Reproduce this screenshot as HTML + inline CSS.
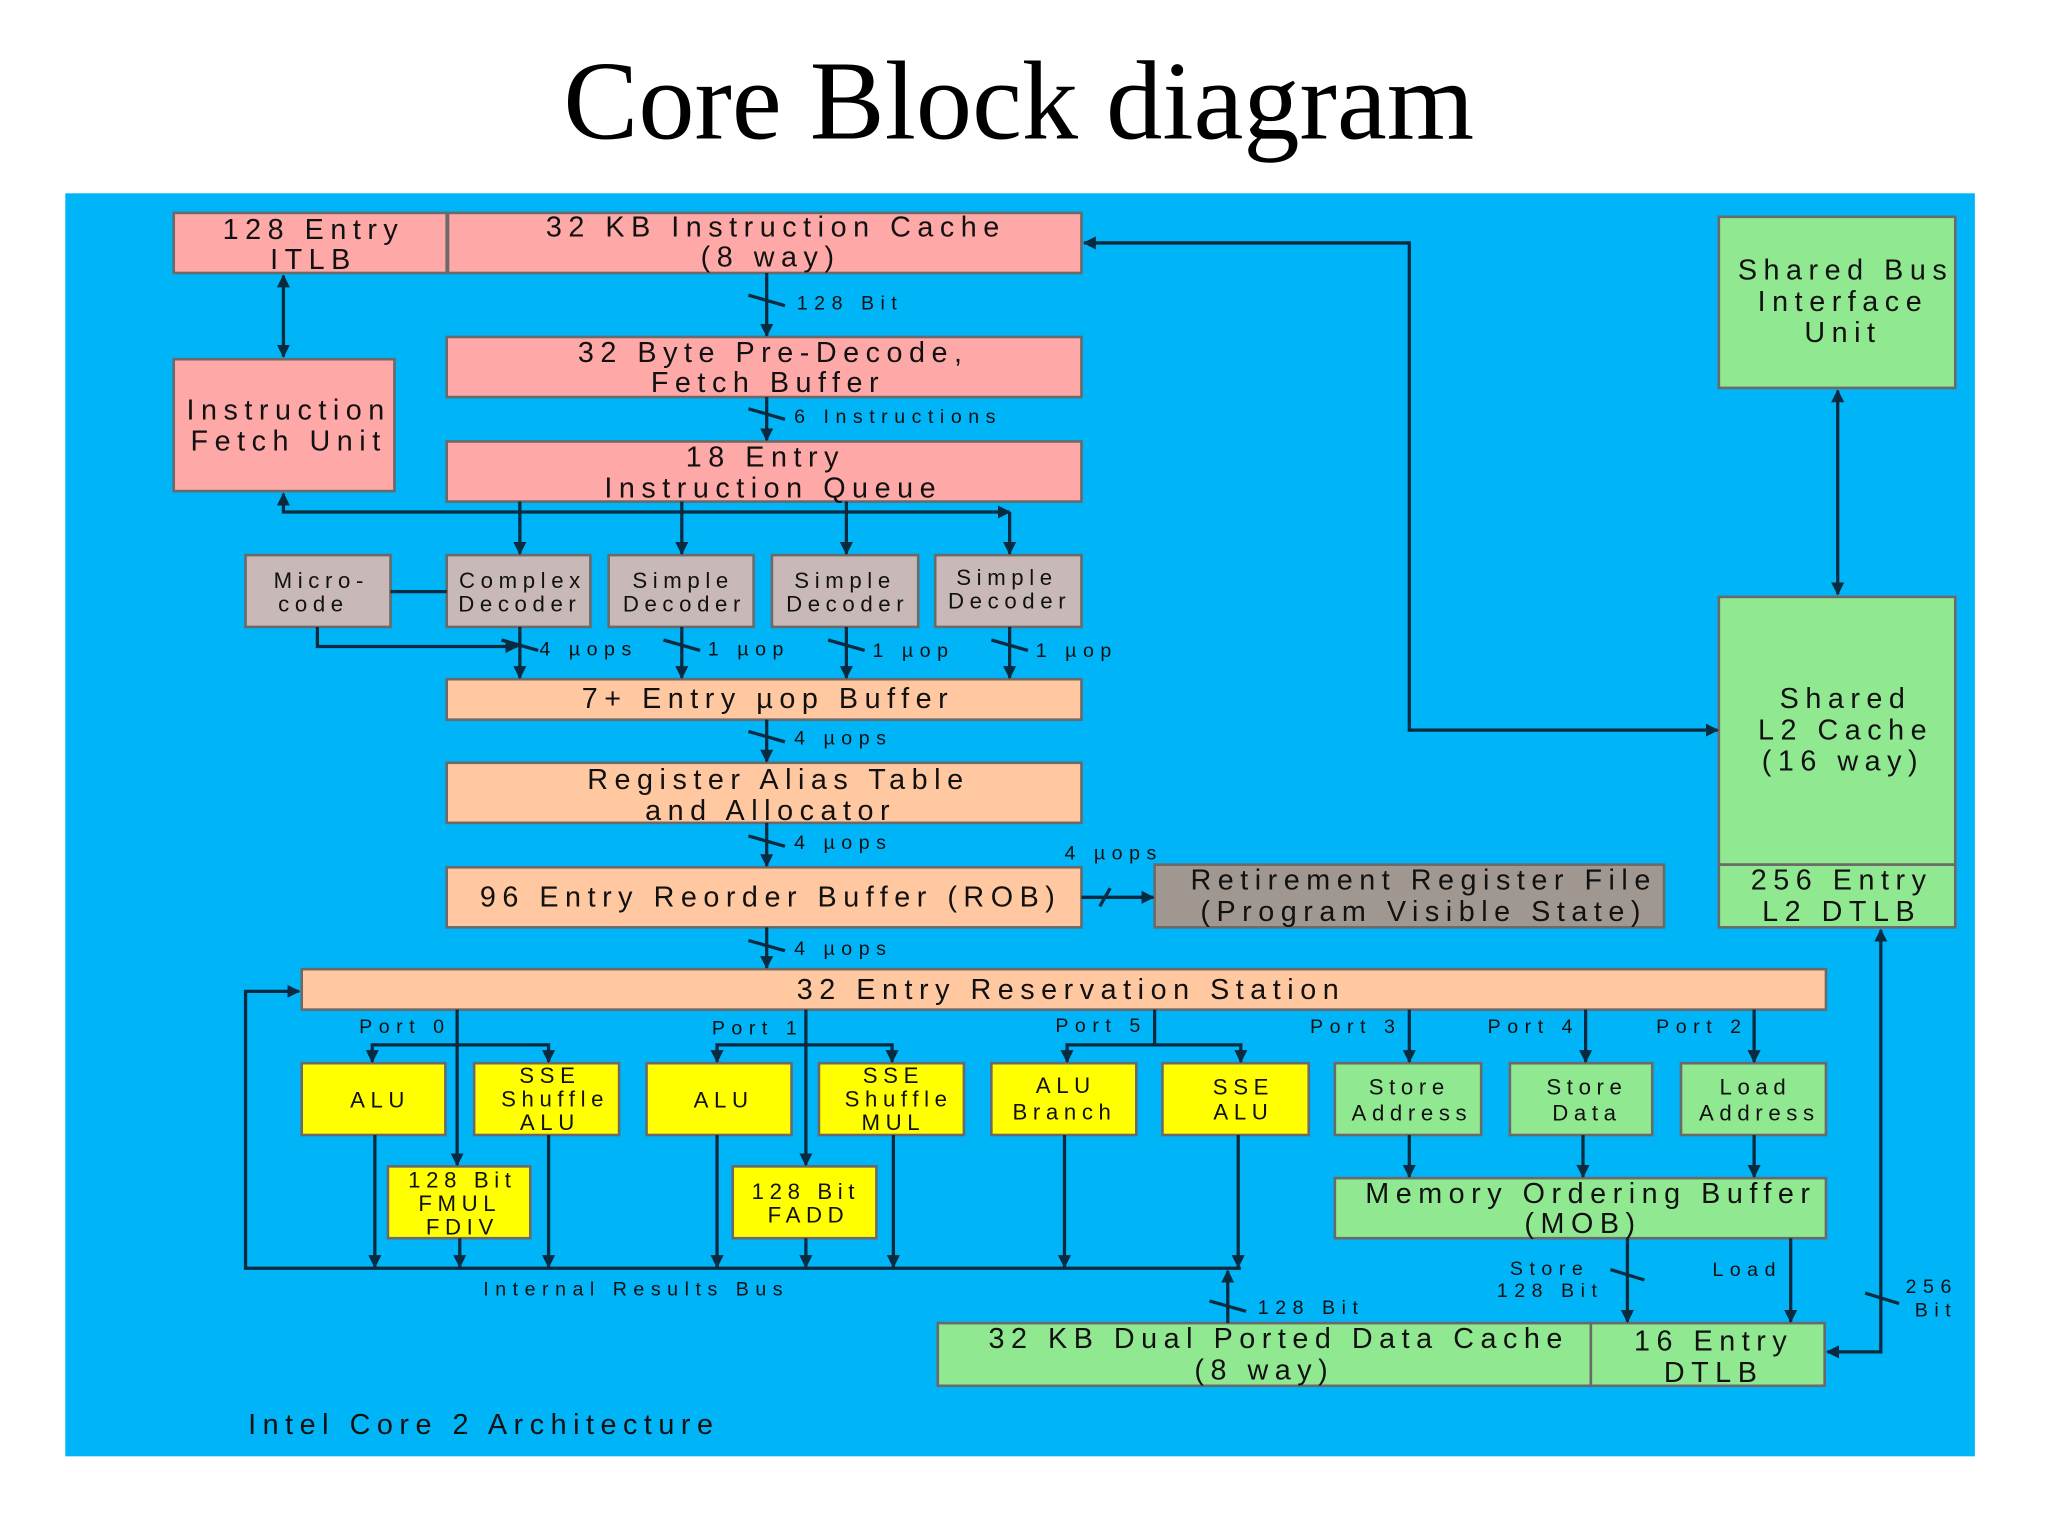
<!DOCTYPE html>
<html><head><meta charset="utf-8"><style>
html,body{margin:0;padding:0;background:#fff;}
svg{display:block;}
text{font-family:"Liberation Sans",sans-serif;fill:#111;}
.b{font-size:22px;letter-spacing:5px;}
.s{font-size:17px;letter-spacing:4.3px;}
.l{font-size:15px;letter-spacing:5px;}
line,polyline{stroke:#0a2a40;stroke-width:2.5;fill:none;}
</style></head><body>
<svg width="2048" height="1536" viewBox="0 0 1568 1176" preserveAspectRatio="none" xmlns="http://www.w3.org/2000/svg">
<defs>
<marker id="a" markerWidth="10" markerHeight="10" refX="9" refY="5" orient="auto" markerUnits="userSpaceOnUse"><path d="M0,0 L10,5 L0,10 z" fill="#0a2a40"/></marker>
<marker id="as" markerWidth="10" markerHeight="10" refX="1" refY="5" orient="auto" markerUnits="userSpaceOnUse"><path d="M10,0 L0,5 L10,10 z" fill="#0a2a40"/></marker>
</defs>
<rect width="1568" height="1176" fill="#fff"/>
<text x="780" y="106" text-anchor="middle" style="font-family:'Liberation Serif',serif;font-size:86px;fill:#000">Core Block diagram</text>
<rect x="50" y="148" width="1462" height="967" fill="#00b4f8"/>

<g stroke="#6a6a6a" stroke-width="2">
<rect x="133" y="163" width="209" height="46" fill="#ffa8a8"/>
<rect x="343" y="163" width="485" height="46" fill="#ffa8a8"/>
<rect x="342" y="258" width="486" height="46" fill="#ffa8a8"/>
<rect x="133" y="275" width="169" height="101" fill="#ffa8a8"/>
<rect x="342" y="338" width="486" height="46" fill="#ffa8a8"/>
<rect x="188" y="425" width="111" height="55" fill="#c8b8b8"/>
<rect x="342" y="425" width="110" height="55" fill="#c8b8b8"/>
<rect x="466" y="425" width="111" height="55" fill="#c8b8b8"/>
<rect x="591" y="425" width="112" height="55" fill="#c8b8b8"/>
<rect x="716" y="425" width="112" height="55" fill="#c8b8b8"/>
<rect x="342" y="520" width="486" height="31" fill="#ffc8a0"/>
<rect x="342" y="584" width="486" height="46" fill="#ffc8a0"/>
<rect x="342" y="664" width="486" height="46" fill="#ffc8a0"/>
<rect x="884" y="662" width="390" height="48" fill="#a09890"/>
<rect x="231" y="742" width="1167" height="31" fill="#ffc8a0"/>
<rect x="1316" y="166" width="181" height="131" fill="#90e890"/>
<rect x="1316" y="457" width="181" height="205" fill="#90e890"/>
<rect x="1316" y="662" width="181" height="48" fill="#90e890"/>
<rect x="231" y="814" width="110" height="55" fill="#ffff00"/>
<rect x="363" y="814" width="111" height="55" fill="#ffff00"/>
<rect x="495" y="814" width="111" height="55" fill="#ffff00"/>
<rect x="627" y="814" width="111" height="55" fill="#ffff00"/>
<rect x="759" y="814" width="111" height="55" fill="#ffff00"/>
<rect x="890" y="814" width="112" height="55" fill="#ffff00"/>
<rect x="297" y="893" width="109" height="55" fill="#ffff00"/>
<rect x="561" y="893" width="110" height="55" fill="#ffff00"/>
<rect x="1022" y="814" width="112" height="55" fill="#90e890"/>
<rect x="1156" y="814" width="109" height="55" fill="#90e890"/>
<rect x="1287" y="814" width="111" height="55" fill="#90e890"/>
<rect x="1022" y="902" width="376" height="46" fill="#90e890"/>
<rect x="718" y="1013" width="500" height="48" fill="#90e890"/>
<rect x="1218" y="1013" width="179" height="48" fill="#90e890"/>
</g>

<g class="b" text-anchor="middle">
<text x="240" y="183">128 Entry</text><text x="240" y="206">ITLB</text>
<text x="594" y="181">32 KB Instruction Cache</text><text x="590" y="204">(8 way)</text>
<text x="592" y="277">32 Byte Pre-Decode,</text><text x="588" y="300">Fetch Buffer</text>
<text x="221" y="321">Instruction</text><text x="221" y="345">Fetch Unit</text>
<text x="586" y="357">18 Entry</text><text x="592" y="381">Instruction Queue</text>
<text x="588" y="542">7+ Entry µop Buffer</text>
<text x="596" y="604">Register Alias Table</text><text x="590" y="628">and Allocator</text>
<text x="590" y="694">96 Entry Reorder Buffer (ROB)</text>
<text x="1090" y="681">Retirement Register File</text><text x="1090" y="705">(Program Visible State)</text>
<text x="820" y="765">32 Entry Reservation Station</text>
<text x="1413" y="214">Shared Bus</text><text x="1411" y="238">Interface</text><text x="1411" y="262">Unit</text>
<text x="1413" y="542">Shared</text><text x="1413" y="566">L2 Cache</text><text x="1411" y="590">(16 way)</text>
<text x="1410" y="681">256 Entry</text><text x="1410" y="705">L2 DTLB</text>
<text x="1218" y="921">Memory Ordering Buffer</text><text x="1212" y="944">(MOB)</text>
<text x="979" y="1032">32 KB Dual Ported Data Cache</text><text x="968" y="1056">(8 way)</text>
<text x="1312" y="1034">16 Entry</text><text x="1312" y="1058">DTLB</text>
</g>
<g class="s" text-anchor="middle">
<text x="246" y="450">Micro-</text><text x="240" y="468">code</text>
<text x="400" y="450">Complex</text><text x="398" y="468">Decoder</text>
<text x="523" y="450">Simple</text><text x="524" y="468">Decoder</text>
<text x="647" y="450">Simple</text><text x="649" y="468">Decoder</text>
<text x="771" y="448">Simple</text><text x="773" y="466">Decoder</text>
<text x="291" y="848">ALU</text>
<text x="421" y="829">SSE</text><text x="425" y="847">Shuffle</text><text x="421" y="865">ALU</text>
<text x="554" y="848">ALU</text>
<text x="684" y="829">SSE</text><text x="688" y="847">Shuffle</text><text x="684" y="865">MUL</text>
<text x="816" y="837">ALU</text><text x="815" y="857">Branch</text>
<text x="952" y="838">SSE</text><text x="952" y="857">ALU</text>
<text x="1079" y="838">Store</text><text x="1081" y="858">Address</text>
<text x="1215" y="838">Store</text><text x="1215" y="858">Data</text>
<text x="1344" y="838">Load</text><text x="1347" y="858">Address</text>
<text x="354" y="909">128 Bit</text><text x="352" y="927">FMUL</text><text x="354" y="945">FDIV</text>
<text x="617" y="918">128 Bit</text><text x="619" y="936">FADD</text>
</g>
<g class="l">
<text x="610" y="237">128 Bit</text>
<text x="608" y="324">6 Instructions</text>
<text x="413" y="502">4 µops</text><text x="542" y="502">1 µop</text><text x="668" y="503">1 µop</text><text x="793" y="503">1 µop</text>
<text x="608" y="570">4 µops</text><text x="608" y="650">4 µops</text><text x="815" y="658">4 µops</text><text x="608" y="731">4 µops</text>
<text x="275" y="791">Port 0</text><text x="545" y="792">Port 1</text><text x="808" y="790">Port 5</text>
<text x="1003" y="791">Port 3</text><text x="1139" y="791">Port 4</text><text x="1268" y="791">Port 2</text>
<text x="370" y="992">Internal Results Bus</text>
<text x="963" y="1006">128 Bit</text>
<text x="1156" y="976">Store</text><text x="1146" y="993">128 Bit</text>
<text x="1311" y="977">Load</text>
<text x="1459" y="990">256</text><text x="1466" y="1008">Bit</text>
</g>
<text x="190" y="1098" style="font-size:22px;letter-spacing:5px">Intel Core 2 Architecture</text>

<line x1="217" y1="211" x2="217" y2="273" marker-start="url(#as)" marker-end="url(#a)"/>
<line x1="587" y1="209" x2="587" y2="257" marker-end="url(#a)"/>
<line x1="587" y1="304" x2="587" y2="337" marker-end="url(#a)"/>
<polyline points="217,378 217,392 773,392" marker-start="url(#as)" marker-end="url(#a)"/>
<line x1="398" y1="384" x2="398" y2="424" marker-end="url(#a)"/>
<line x1="522" y1="384" x2="522" y2="424" marker-end="url(#a)"/>
<line x1="648" y1="384" x2="648" y2="424" marker-end="url(#a)"/>
<line x1="773" y1="392" x2="773" y2="424" marker-end="url(#a)"/>
<line x1="299" y1="453" x2="342" y2="453"/>
<polyline points="243,480 243,495 396,495" marker-end="url(#a)"/>
<line x1="398" y1="480" x2="398" y2="519" marker-end="url(#a)"/>
<line x1="522" y1="480" x2="522" y2="519" marker-end="url(#a)"/>
<line x1="648" y1="480" x2="648" y2="519" marker-end="url(#a)"/>
<line x1="773" y1="480" x2="773" y2="519" marker-end="url(#a)"/>
<line x1="587" y1="551" x2="587" y2="583" marker-end="url(#a)"/>
<line x1="587" y1="630" x2="587" y2="663" marker-end="url(#a)"/>
<line x1="587" y1="710" x2="587" y2="741" marker-end="url(#a)"/>
<line x1="828" y1="687" x2="883" y2="687" marker-end="url(#a)"/>
<polyline points="830,186 1079,186 1079,559 1315,559" marker-start="url(#as)" marker-end="url(#a)"/>
<line x1="1407" y1="299" x2="1407" y2="455" marker-start="url(#as)" marker-end="url(#a)"/>
<polyline points="1440,712 1440,1035 1399,1035" marker-start="url(#as)" marker-end="url(#a)"/>
<g>
<line x1="573" y1="226" x2="601" y2="234"/><line x1="573" y1="313" x2="601" y2="321"/>
<line x1="384" y1="490" x2="412" y2="498"/><line x1="508" y1="490" x2="536" y2="498"/>
<line x1="634" y1="490" x2="662" y2="498"/><line x1="759" y1="490" x2="787" y2="498"/>
<line x1="573" y1="560" x2="601" y2="568"/><line x1="573" y1="640" x2="601" y2="648"/>
<line x1="573" y1="720" x2="601" y2="728"/><line x1="842" y1="694" x2="850" y2="680"/>
<line x1="926" y1="996" x2="954" y2="1004"/><line x1="1233" y1="972" x2="1259" y2="980"/>
<line x1="1428" y1="990" x2="1454" y2="998"/>
</g>
<line x1="350" y1="773" x2="350" y2="892" marker-end="url(#a)"/>
<polyline points="285,813 285,800 420,800 420,813" marker-start="url(#as)" marker-end="url(#a)"/>
<line x1="617" y1="773" x2="617" y2="892" marker-end="url(#a)"/>
<polyline points="549,813 549,800 683,800 683,813" marker-start="url(#as)" marker-end="url(#a)"/>
<line x1="884" y1="773" x2="884" y2="800"/>
<polyline points="817,813 817,800 950,800 950,813" marker-start="url(#as)" marker-end="url(#a)"/>
<line x1="1079" y1="773" x2="1079" y2="813" marker-end="url(#a)"/>
<line x1="1214" y1="773" x2="1214" y2="813" marker-end="url(#a)"/>
<line x1="1343" y1="773" x2="1343" y2="813" marker-end="url(#a)"/>
<polyline points="950,971 188,971 188,759 229,759" stroke-width="3.5" marker-end="url(#a)"/>
<line x1="287" y1="869" x2="287" y2="970" marker-end="url(#a)"/>
<line x1="420" y1="869" x2="420" y2="970" marker-end="url(#a)"/>
<line x1="352" y1="948" x2="352" y2="970" marker-end="url(#a)"/>
<line x1="549" y1="869" x2="549" y2="970" marker-end="url(#a)"/>
<line x1="617" y1="948" x2="617" y2="970" marker-end="url(#a)"/>
<line x1="684" y1="869" x2="684" y2="970" marker-end="url(#a)"/>
<line x1="815" y1="869" x2="815" y2="970" marker-end="url(#a)"/>
<line x1="948" y1="869" x2="948" y2="970" marker-end="url(#a)"/>
<line x1="940" y1="1013" x2="940" y2="973" marker-end="url(#a)"/>
<line x1="1079" y1="869" x2="1079" y2="901" marker-end="url(#a)"/>
<line x1="1212" y1="869" x2="1212" y2="901" marker-end="url(#a)"/>
<line x1="1343" y1="869" x2="1343" y2="901" marker-end="url(#a)"/>
<line x1="1246" y1="948" x2="1246" y2="1012" marker-end="url(#a)"/>
<line x1="1371" y1="948" x2="1371" y2="1012" marker-end="url(#a)"/>
</svg>
</body></html>
